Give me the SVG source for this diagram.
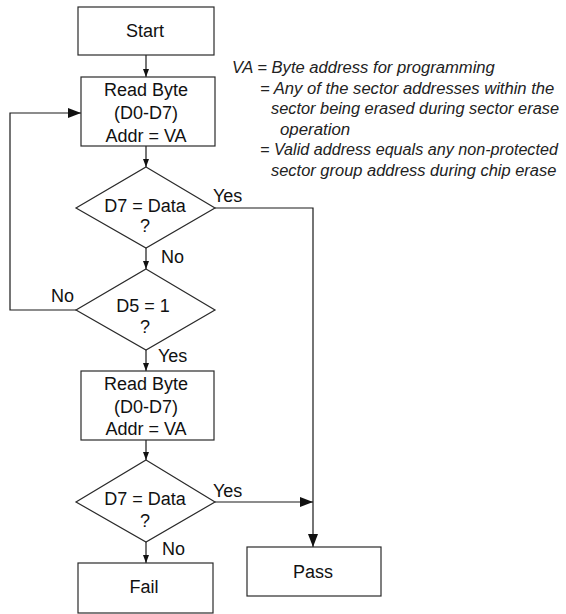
<svg xmlns="http://www.w3.org/2000/svg" width="566" height="614" viewBox="0 0 566 614">
<style>
  .box { fill: #ffffff; stroke: #2a2a2a; stroke-width: 1.2; }
  .t { font-family: "Liberation Sans", Arial, sans-serif; font-size: 18px; fill: #111; text-anchor: middle; }
  .lbl { font-family: "Liberation Sans", Arial, sans-serif; font-size: 18px; fill: #111; }
  .note { font-family: "Liberation Sans", Arial, sans-serif; font-size: 17px; font-style: italic; fill: #222; }
  .c { fill: none; stroke: #1a1a1a; stroke-width: 1.2; }
</style>
<defs>
  <marker id="sm" viewBox="0 0 8 8" refX="8" refY="4" markerWidth="8" markerHeight="8" markerUnits="userSpaceOnUse" orient="auto">
    <path d="M0,1 L8,4 L0,7 Z" fill="#111"/>
  </marker>
  <marker id="lg" viewBox="0 0 13 10" refX="13" refY="5" markerWidth="13" markerHeight="10" markerUnits="userSpaceOnUse" orient="auto">
    <path d="M0,0 L13,5 L0,10 Z" fill="#111"/>
  </marker>
</defs>
<rect width="566" height="614" fill="#ffffff"/>

<g id="connectors">
  <line class="c" x1="146" y1="55" x2="146" y2="77" marker-end="url(#sm)"/>
  <line class="c" x1="146" y1="146" x2="146" y2="167" marker-end="url(#sm)"/>
  <line class="c" x1="146" y1="248" x2="146" y2="269" marker-end="url(#sm)"/>
  <polyline class="c" points="76,310 10,310 10,113 81,113" marker-end="url(#lg)"/>
  <line class="c" x1="146" y1="350" x2="146" y2="371" marker-end="url(#sm)"/>
  <line class="c" x1="146" y1="440" x2="146" y2="460" marker-end="url(#sm)"/>
  <line class="c" x1="146" y1="542" x2="146" y2="563" marker-end="url(#sm)"/>
  <polyline class="c" points="215,208 313,208 313,547" marker-end="url(#lg)"/>
  <line class="c" x1="215" y1="502" x2="313" y2="502" marker-end="url(#lg)"/>
  <text class="lbl" x="161" y="263">No</text>
  <text class="lbl" x="51" y="302">No</text>
  <text class="lbl" x="158" y="362">Yes</text>
  <text class="lbl" x="162" y="555">No</text>
  <text class="lbl" x="213" y="202">Yes</text>
  <text class="lbl" x="213" y="497">Yes</text>
</g>

<g id="start">
  <rect class="box" x="78" y="7" width="136" height="48"/>
  <text class="t" x="145" y="37">Start</text>
</g>

<g id="read1">
  <rect class="box" x="81" y="77" width="134" height="69"/>
  <text class="t" x="146" y="96">Read Byte</text>
  <text class="t" x="146" y="119">(D0-D7)</text>
  <text class="t" x="146" y="142">Addr = VA</text>
</g>

<g id="dec1">
  <polygon class="box" points="146,167 215,208 146,248 76,208"/>
  <text class="t" x="145" y="212">D7 = Data</text>
  <text class="t" x="145" y="232">?</text>
</g>

<g id="dec2">
  <polygon class="box" points="146,269 215,310 146,350 76,310"/>
  <text class="t" x="143" y="312">D5 = 1</text>
  <text class="t" x="145" y="333">?</text>
</g>

<g id="read2">
  <rect class="box" x="81" y="371" width="133" height="69"/>
  <text class="t" x="146" y="390">Read Byte</text>
  <text class="t" x="146" y="413">(D0-D7)</text>
  <text class="t" x="146" y="435">Addr = VA</text>
</g>

<g id="dec3">
  <polygon class="box" points="146,460 215,502 146,542 76,502"/>
  <text class="t" x="145" y="505">D7 = Data</text>
  <text class="t" x="145" y="527">?</text>
</g>

<g id="fail">
  <rect class="box" x="78" y="563" width="135" height="50"/>
  <text class="t" x="144" y="593">Fail</text>
</g>

<g id="pass">
  <rect class="box" x="247" y="547" width="134" height="49"/>
  <text class="t" x="313" y="578">Pass</text>
</g>

<g id="notes">
  <text class="note" transform="translate(232,73) scale(0.9,1)" x="0" y="0" textLength="292" lengthAdjust="spacingAndGlyphs">VA = Byte address for programming</text>
  <text class="note" transform="translate(260,93.5) scale(0.9,1)" x="0" y="0" textLength="327" lengthAdjust="spacingAndGlyphs">= Any of the sector addresses within the</text>
  <text class="note" transform="translate(271,114) scale(0.9,1)" x="0" y="0" textLength="320" lengthAdjust="spacingAndGlyphs">sector being erased during sector erase</text>
  <text class="note" transform="translate(280,134.5) scale(0.9,1)" x="0" y="0" textLength="78" lengthAdjust="spacingAndGlyphs">operation</text>
  <text class="note" transform="translate(260,155) scale(0.9,1)" x="0" y="0" textLength="331" lengthAdjust="spacingAndGlyphs">= Valid address equals any non-protected</text>
  <text class="note" transform="translate(271,175.5) scale(0.9,1)" x="0" y="0" textLength="317" lengthAdjust="spacingAndGlyphs">sector group address during chip erase</text>
</g>
</svg>
